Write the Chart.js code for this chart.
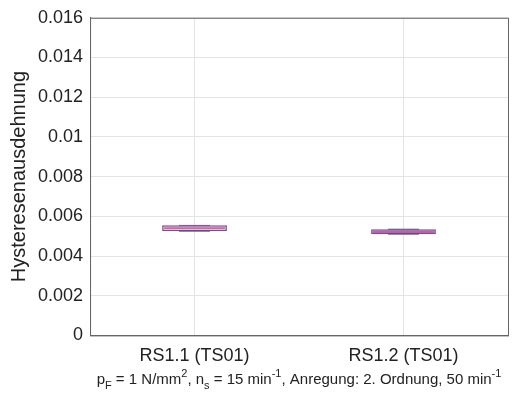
<!DOCTYPE html>
<html>
<head>
<meta charset="utf-8">
<script src="https://cdn.jsdelivr.net/npm/chart.js@4"></script>
<style>
  html, body { margin: 0; padding: 0; background: #fff; }
  #wrap { width: 518px; height: 398px; }
</style>
</head>
<body>
<div id="wrap"><canvas id="chart" width="518" height="398"></canvas></div>
<script>
// Box plot data
const categories = ["RS1.1 (TS01)", "RS1.2 (TS01)"];
const whiskerLow = [0.00525, 0.0051];
const q1 = [0.00525, 0.0051];
const median = [0.0054, 0.0052];
const q3 = [0.00555, 0.00535];
const whiskerHigh = [0.00555, 0.00535];
const yTicks = [0, 0.002, 0.004, 0.006, 0.008, 0.01, 0.012, 0.014, 0.016];

const capSize = 0.00003;
const fontFamily = "'Liberation Sans', Arial, sans-serif";

// Frame around the plot area + subtitle with sub/superscripts
const framePlugin = {
  id: "frame",
  afterDraw(chart) {
    const { ctx, chartArea: a } = chart;
    ctx.save();
    ctx.strokeStyle = "#666";
    ctx.lineWidth = 1;
    ctx.strokeRect(a.left + 0.5, a.top + 0.5, a.right - a.left, a.bottom - a.top);

    // subtitle
    const parts = [
      ["p", 0], ["F", 1], [" = 1 N/mm", 0], ["2", -1], [", n", 0], ["s", 1],
      [" = 15 min", 0], ["-1", -1], [", Anregung: 2. Ordnung, 50 min", 0], ["-1", -1]
    ];
    const base = "15px " + fontFamily;
    const small = "11px " + fontFamily;
    let total = 0;
    parts.forEach(([t, s]) => {
      ctx.font = s ? small : base;
      total += ctx.measureText(t).width;
    });
    let x = (a.left + a.right) / 2 - total / 2;
    const y = 384;
    ctx.fillStyle = "#222";
    ctx.textBaseline = "alphabetic";
    parts.forEach(([t, s]) => {
      ctx.font = s ? small : base;
      ctx.fillText(t, x, y + (s === 1 ? 5 : s === -1 ? -7 : 0));
      x += ctx.measureText(t).width;
    });
    ctx.restore();
  }
};

const ctx = document.getElementById("chart");
new Chart(ctx, {
  type: "bar",
  data: {
    labels: categories,
    datasets: [
      {
        label: "box",
        data: categories.map((c, i) => [q1[i], q3[i]]),
        backgroundColor: ["#e7b9dc", "#b27db8"],
        borderColor: "#7d4a96",
        borderWidth: 1.5,
        borderSkipped: false,
        barPercentage: 0.31,
        categoryPercentage: 1,
        grouped: false,
        order: 3
      },
      {
        label: "median",
        data: categories.map((c, i) => [median[i] - capSize, median[i] + capSize]),
        backgroundColor: "#c0508a",
        borderWidth: 0,
        barPercentage: 0.29,
        categoryPercentage: 1,
        grouped: false,
        order: 2
      },
      {
        label: "whiskerHigh",
        data: categories.map((c, i) => [whiskerHigh[i] - capSize, whiskerHigh[i] + capSize]),
        backgroundColor: "#4a3a78",
        borderColor: "#4a3a78",
        borderWidth: 1,
        borderSkipped: false,
        barPercentage: 0.15,
        categoryPercentage: 1,
        grouped: false,
        order: 1
      },
      {
        label: "whiskerLow",
        data: categories.map((c, i) => [whiskerLow[i] - capSize, whiskerLow[i] + capSize]),
        backgroundColor: "#4a3a78",
        borderColor: "#4a3a78",
        borderWidth: 1,
        borderSkipped: false,
        barPercentage: 0.15,
        categoryPercentage: 1,
        grouped: false,
        order: 1
      }
    ]
  },
  options: {
    responsive: false,
    animation: false,
    layout: { padding: { top: 2, right: 10, bottom: 21, left: 7 } },
    plugins: {
      legend: { display: false },
      tooltip: { enabled: false }
    },
    scales: {
      x: {
        offset: true,
        grid: { offset: false, color: "#e4e4e4", drawTicks: false },
        border: { color: "#666" },
        ticks: {
          color: "#222",
          padding: 10,
          font: { size: 18, family: fontFamily }
        }
      },
      y: {
        min: 0,
        max: 0.016,
        afterBuildTicks(axis) {
          axis.ticks = yTicks.map((v) => ({ value: v }));
        },
        grid: { color: "#e4e4e4", drawTicks: false },
        border: { color: "#666" },
        ticks: {
          color: "#222",
          padding: 7,
          font: { size: 18, family: fontFamily },
          callback: (v) => String(parseFloat(v.toFixed(3)))
        },
        title: {
          display: true,
          text: "Hysteresenausdehnung",
          color: "#222",
          padding: { top: 0, bottom: 0 },
          font: { size: 20, family: fontFamily }
        }
      }
    }
  },
  plugins: [framePlugin]
});
</script>
</body>
</html>
